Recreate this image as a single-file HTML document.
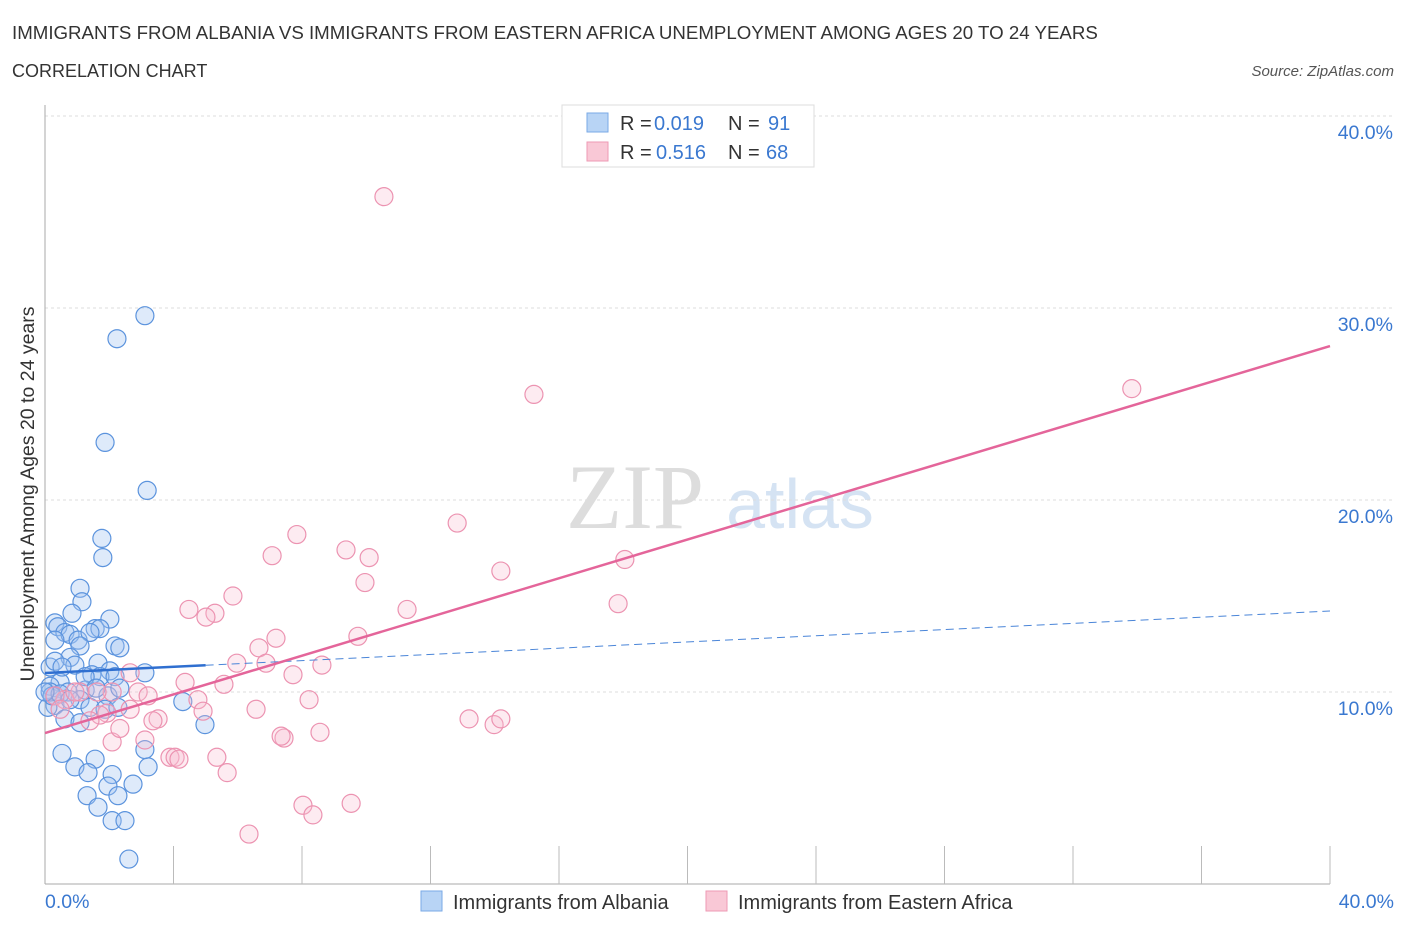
<!DOCTYPE html>
<html><head><meta charset="utf-8"><style>
body{margin:0;background:#fff;font-family:"Liberation Sans",sans-serif}
</style></head><body>
<svg width="1406" height="930" xmlns="http://www.w3.org/2000/svg" id="chart" style="font-family:'Liberation Sans',sans-serif">
<text x="12" y="39" font-size="18.7" fill="#333">IMMIGRANTS FROM ALBANIA VS IMMIGRANTS FROM EASTERN AFRICA UNEMPLOYMENT AMONG AGES 20 TO 24 YEARS</text>
<text x="12" y="77" font-size="18" fill="#333">CORRELATION CHART</text>
<text x="1394" y="76" font-size="15" fill="#555" font-style="italic" text-anchor="end">Source: ZipAtlas.com</text>
<text x="635" y="528" font-size="92" fill="#ddd" font-family="Liberation Serif" text-anchor="middle">ZIP</text>
<text x="800" y="528" font-size="70" fill="#d5e3f3" text-anchor="middle">atlas</text>
<g id="grid"></g><g id="axes"></g><g id="pts"></g><g id="lines"></g>
<text transform="translate(34,494) rotate(-90)" font-size="19.5" fill="#333" text-anchor="middle">Unemployment Among Ages 20 to 24 years</text>
<g>
<rect x="562" y="105" width="252" height="62" fill="#fff" stroke="#ddd"/>
<rect x="587" y="113" width="21" height="19" fill="#b8d4f5" stroke="#7aaae6"/>
<rect x="587" y="142" width="21" height="19" fill="#f9c8d6" stroke="#ee9ab4"/>
<text x="620" y="130" font-size="20" fill="#333">R = </text>
<text x="654" y="130" font-size="20" fill="#3a78d0">0.019</text>
<text x="728" y="130" font-size="20" fill="#333">N = </text>
<text x="768" y="130" font-size="20" fill="#3a78d0">91</text>
<text x="620" y="159" font-size="20" fill="#333">R = </text>
<text x="656" y="159" font-size="20" fill="#3a78d0">0.516</text>
<text x="728" y="159" font-size="20" fill="#333">N = </text>
<text x="766" y="159" font-size="20" fill="#3a78d0">68</text>
</g>
<g>
<rect x="421" y="891" width="21" height="20" fill="#b8d4f5" stroke="#7aaae6"/>
<text x="453" y="909" font-size="20" fill="#333">Immigrants from Albania</text>
<rect x="706" y="891" width="21" height="20" fill="#f9c8d6" stroke="#ee9ab4"/>
<text x="738" y="909" font-size="20" fill="#333">Immigrants from Eastern Africa</text>
</g>
</svg>
<script>
const yTicks=[10,20,30,40];
const yTickLabels=["10.0%","20.0%","30.0%","40.0%"];
const xTickLabels=["0.0%","40.0%"];
const blueX=[3.11,2.24,1.87,3.18,1.77,1.80,1.09,1.15,0.84,2.02,0.31,0.40,0.62,0.78,1.56,1.71,1.03,1.40,0.31,2.18,2.33,1.09,0.78,1.65,0.93,0.16,0.31,2.02,3.11,1.46,1.71,2.18,0.47,0.16,1.25,1.96,0.72,1.09,0.31,0.09,1.40,1.87,2.27,4.29,0.62,1.09,4.98,0.53,0.93,1.56,1.34,2.09,3.21,3.11,1.96,2.74,1.31,1.65,2.27,2.09,2.49,2.61,0.16,0.22,0.47,0.78,0.0,0.53,1.25,1.59,2.33];
const blueY=[29.6,28.4,23.0,20.5,18.0,17.0,15.4,14.7,14.1,13.8,13.6,13.4,13.1,13.0,13.3,13.3,12.7,13.1,12.7,12.4,12.3,12.4,11.8,11.5,11.4,11.3,11.6,11.1,11.0,10.9,10.8,10.8,10.5,10.3,10.1,9.8,10.0,9.6,9.3,9.2,9.2,9.1,9.2,9.5,8.6,8.4,8.3,6.8,6.1,6.5,5.8,5.7,6.1,7.0,5.1,5.2,4.6,4.0,4.6,3.3,3.3,1.3,10.0,9.8,9.9,9.6,10.0,11.3,10.8,10.2,10.2];
const pinkX=[10.55,15.22,33.83,12.83,7.84,7.07,9.37,10.09,14.19,18.05,9.96,5.85,17.84,11.27,4.48,5.29,5.01,7.19,9.74,6.66,5.97,6.88,8.62,7.72,5.57,4.36,2.65,2.90,3.21,4.76,8.22,2.09,1.62,1.09,1.93,4.92,6.57,3.52,3.36,13.20,13.98,14.19,8.56,7.44,7.35,2.09,3.11,3.89,4.05,4.17,5.35,5.67,8.03,8.34,9.53,6.35,0.62,0.31,0.47,1.71,1.40,2.33,0.93,2.65];
const pinkY=[35.8,25.5,25.8,18.8,18.2,17.1,17.4,17.0,16.3,16.9,15.7,15.0,14.6,14.3,14.3,14.1,13.9,12.8,12.9,12.3,11.5,11.5,11.4,10.9,10.4,10.5,11.0,10.0,9.8,9.6,9.6,10.0,10.0,10.0,8.9,9.0,9.1,8.6,8.5,8.6,8.3,8.6,7.9,7.6,7.7,7.4,7.5,6.6,6.6,6.5,6.6,5.8,4.1,3.6,4.2,2.6,9.6,9.8,9.1,8.8,8.5,8.1,10.0,9.1];
const blueTrend=[10.99,14.22];
const pinkTrend=[7.86,28.02];
const X0=45,X1=1330,Y0=884,PY=19.2;
const sx=v=>X0+(v/40)*(X1-X0), sy=v=>Y0-v*PY;
const NS="http://www.w3.org/2000/svg";
function mk(tag,attrs,parent){const e=document.createElementNS(NS,tag);for(const k in attrs)e.setAttribute(k,attrs[k]);document.getElementById(parent).appendChild(e);return e;}
yTicks.forEach((t,i)=>{
 const g=mk('line',{x1:X0,x2:1395,y1:sy(t),y2:sy(t),stroke:'#ddd','stroke-dasharray':'3,3'},'grid');
 
 
 const l=mk('text',{x:1393,y:sy(t)+23,'font-size':19.5,fill:'#3a78d0','text-anchor':'end'},'grid');
 l.textContent=yTickLabels[i];
 
 
});
const ax=mk('line',{x1:X0,x2:X0,y1:105,y2:884,stroke:'#aaa'},'axes');


const bx=mk('line',{x1:X0,x2:X1,y1:884,y2:884,stroke:'#aaa'},'axes');


for(let i=1;i<=10;i++){const t=mk('line',{x1:sx(i*4),x2:sx(i*4),y1:846,y2:884,stroke:'#bbb'},'axes');
 
 }
[[0,'start',45],[40,'end',1394]].forEach((d,i)=>{const t=mk('text',{x:d[2],y:908,'font-size':19.5,fill:'#3a78d0','text-anchor':d[1]},'axes');t.textContent=xTickLabels[i];
 
 });
blueX.forEach((v,i)=>{const c=mk('circle',{cx:sx(v),cy:sy(blueY[i]),r:9,fill:'rgba(160,196,240,0.35)',stroke:'#5b93dd','stroke-width':1.2},'pts');
 
 });
pinkX.forEach((v,i)=>{const c=mk('circle',{cx:sx(v),cy:sy(pinkY[i]),r:9,fill:'rgba(248,190,208,0.3)',stroke:'#ec93b1','stroke-width':1.2},'pts');
 
 });
const bt=v=>blueTrend[0]+(blueTrend[1]-blueTrend[0])*v/40;
const l1=mk('line',{x1:sx(0),y1:sy(bt(0)),x2:sx(5),y2:sy(bt(5)),stroke:'#2f6fd0','stroke-width':2.5},'lines');


const l2=mk('line',{x1:sx(5),y1:sy(bt(5)),x2:sx(40),y2:sy(bt(40)),stroke:'#4a85d8','stroke-width':1,'stroke-dasharray':'8,5'},'lines');


const l3=mk('line',{x1:sx(0),y1:sy(pinkTrend[0]),x2:sx(40),y2:sy(pinkTrend[1]),stroke:'#e4659a','stroke-width':2.5},'lines');


</script>
</body></html>
